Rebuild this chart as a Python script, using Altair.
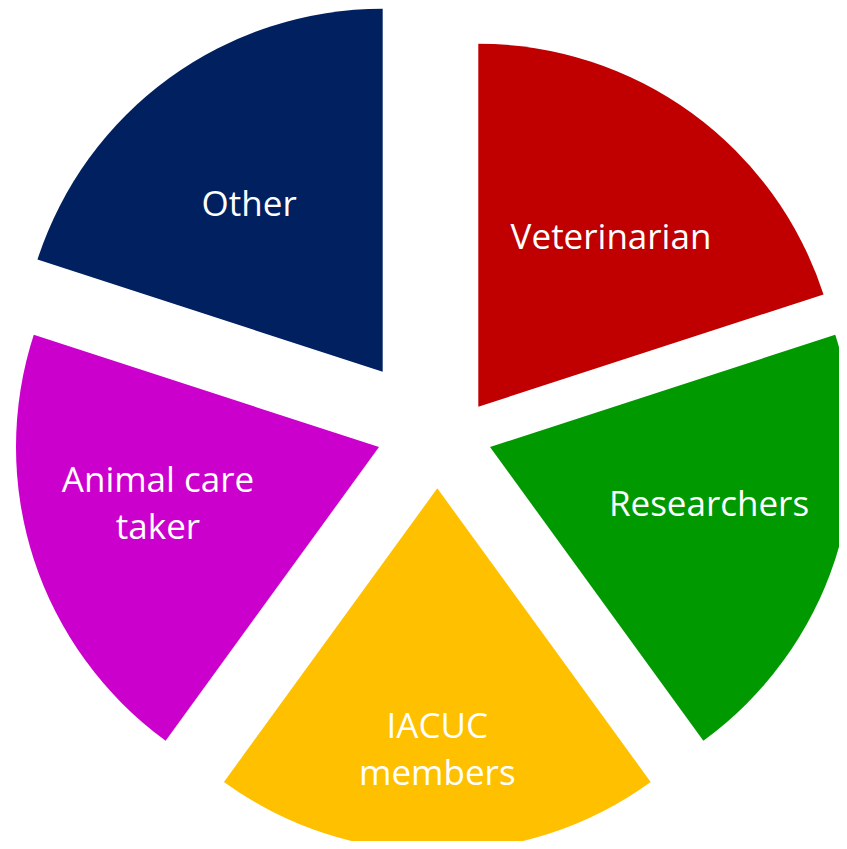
import altair as alt
import pandas as pd

# ---- data ----
categories = ["Veterinarian", "Researchers", "IACUC members", "Animal care taker", "Other"]
values = [20, 20, 20, 20, 20]
labels = ["Veterinarian", "Researchers", "IACUC\nmembers", "Animal care\ntaker", "Other"]

# ---- style ----
colors = ["#C00000", "#009900", "#FFC000", "#CC00CC", "#002060"]
# pixel position of each exploded wedge's tip (inside the plot area)
apex_x = [470.3, 482.0, 429.3, 371.0, 374.7]
apex_y = [398.7, 439.0, 480.3, 439.0, 363.7]
label_r = [216, 226, 260, 228, 215]
label_shift = [1.9, -3.7, 0.0, 3.8, -2.4]  # degrees relative to wedge bisector
RADIUS = 363
LINE_H = 47

df = pd.DataFrame({
    "order": list(range(len(categories))),
    "category": categories,
    "value": values,
    "label": labels,
    "ax": apex_x,
    "ay": apex_y,
    "lr": label_r,
    "ls": label_shift,
})

base = alt.Chart(df).transform_window(
    cum="sum(value)", sort=[alt.SortField("order")], frame=[None, 0]
).transform_joinaggregate(
    total="sum(value)"
).transform_calculate(
    t0="2*PI*(datum.cum - datum.value)/datum.total",
    t1="2*PI*datum.cum/datum.total",
).transform_calculate(
    la="(datum.t0 + datum.t1)/2 + datum.ls*PI/180",
    nl="length(split(datum.label, '\\n'))",
).transform_calculate(
    lx="datum.ax + datum.lr*sin(datum.la)",
    ly=f"datum.ay - datum.lr*cos(datum.la) - (datum.nl - 1)*{LINE_H}/2",
)

arcs = base.mark_arc(radius=RADIUS, stroke=None).encode(
    theta=alt.Theta("t0:Q", scale=None, stack=False),
    theta2="t1:Q",
    x=alt.X("ax:Q", scale=None),
    y=alt.Y("ay:Q", scale=None),
    color=alt.Color("category:N", scale=alt.Scale(domain=categories, range=colors), legend=None),
)

text = base.mark_text(
    font="Open Sans", fontSize=35, color="white", align="center",
    baseline="middle", lineBreak="\n", lineHeight=LINE_H, dy=2,
).encode(
    x=alt.X("lx:Q", scale=None),
    y=alt.Y("ly:Q", scale=None),
    text="label:N",
)

chart = alt.layer(arcs, text).properties(
    width=831, height=833, padding=0, autosize=alt.AutoSizeParams(type="none")
).configure_view(stroke=None)

chart.save("out.html", embed_options={"renderer": "svg", "actions": False})
